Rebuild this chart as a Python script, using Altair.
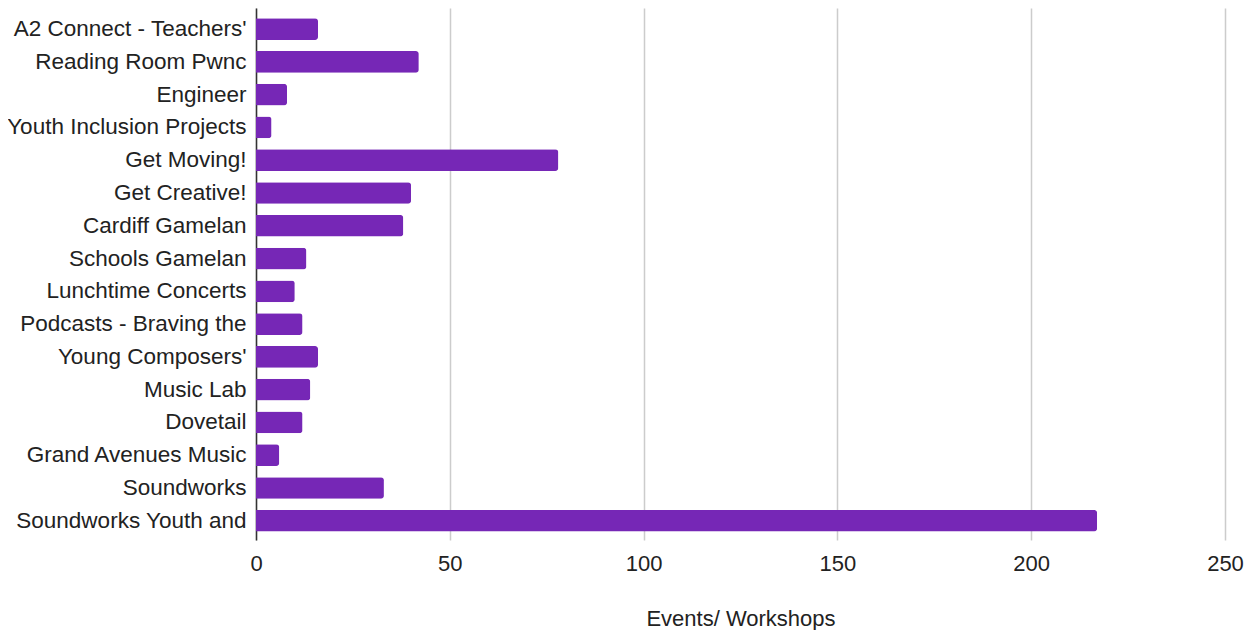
import altair as alt
import pandas as pd

programmes = [
    "A2 Connect - Teachers'",
    "Reading Room Pwnc",
    "Engineer",
    "Youth Inclusion Projects",
    "Get Moving!",
    "Get Creative!",
    "Cardiff Gamelan",
    "Schools Gamelan",
    "Lunchtime Concerts",
    "Podcasts - Braving the",
    "Young Composers'",
    "Music Lab",
    "Dovetail",
    "Grand Avenues Music",
    "Soundworks",
    "Soundworks Youth and",
]
events = [16, 42, 8, 4, 78, 40, 38, 13, 10, 12, 16, 14, 12, 6, 33, 217]
x_ticks = [0, 50, 100, 150, 200, 250]

df = pd.DataFrame({"programme": programmes, "events": events})

FONT = "Liberation Sans"

chart = (
    alt.Chart(df)
    .mark_bar(color="#7627B6", cornerRadiusEnd=3)
    .encode(
        x=alt.X(
            "events:Q",
            scale=alt.Scale(domain=[0, 250], nice=False),
            axis=alt.Axis(
                values=x_ticks,
                title="Events/ Workshops",
                titleFont=FONT,
                titleFontSize=22,
                titleFontWeight="normal",
                titleColor="#222222",
                titlePadding=34,
                labelFont=FONT,
                labelFontSize=22,
                labelColor="#222222",
                labelPadding=13,
                labelFlush=False,
                ticks=False,
                domain=False,
                grid=True,
                gridColor="#CCCCCC",
                gridWidth=1.5,
            ),
        ),
        y=alt.Y(
            "programme:N",
            sort=programmes,
            scale=alt.Scale(paddingInner=0.338, paddingOuter=0.284, align=0.55),
            axis=alt.Axis(
                title=None,
                labelFont=FONT,
                labelFontSize=22.5,
                labelColor="#222222",
                labelPadding=10,
                labelLimit=260,
                ticks=False,
                domain=True,
                domainColor="#333333",
                domainWidth=1.5,
                grid=False,
            ),
        ),
    )
    .properties(
        width=969,
        height=532,
        autosize="none",
        padding={"left": 248, "top": 0, "right": 21, "bottom": 90},
    )
    .configure_view(stroke=None)
)

chart.save("out.html", embed_options={"renderer": "svg", "actions": False})
